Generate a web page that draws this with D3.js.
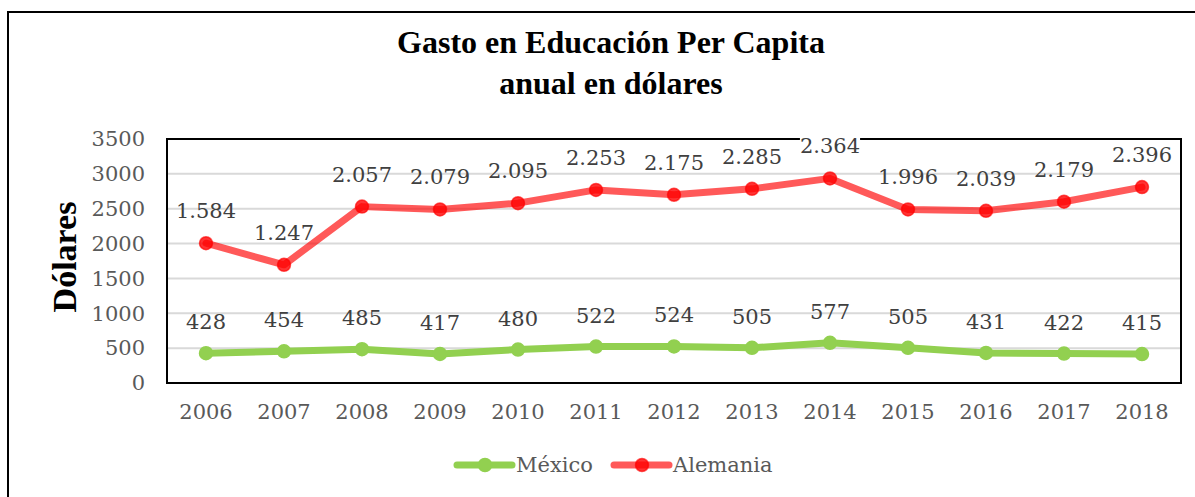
<!DOCTYPE html>
<html>
<head>
<meta charset="utf-8">
<script src="https://cdn.jsdelivr.net/npm/d3@7"></script>
<style>
    body { margin: 0; background: #fff; }
    svg { display: block; }
</style>
</head>
<body>
<svg id="chart" width="1195" height="497"></svg>
<script>
// datos del gráfico
const years = ["2006", "2007", "2008", "2009", "2010", "2011", "2012", "2013", "2014", "2015", "2016", "2017", "2018"];
const mexico = [428, 454, 485, 417, 480, 522, 524, 505, 577, 505, 431, 422, 415];
// Alemania: la línea trazada y las etiquetas no coinciden en el original
const alemania = [2005, 1695, 2530, 2490, 2580, 2770, 2700, 2785, 2935, 2490, 2470, 2600, 2810];
const alemaniaLabels = ["1.584", "1.247", "2.057", "2.079", "2.095", "2.253", "2.175", "2.285", "2.364", "1.996", "2.039", "2.179", "2.396"];
const yTicks = [0, 500, 1000, 1500, 2000, 2500, 3000, 3500];

const svg = d3.select("#chart");
const plot = { left: 167, right: 1181, top: 139, bottom: 383 };
const serif = "'DejaVu Serif', serif";
const titleFont = "'Liberation Serif', 'Times New Roman', serif";
const fs = "21px";

// marco exterior
svg.append("rect")
    .attr("x", 8).attr("y", 12)
    .attr("width", 1200).attr("height", 500)
    .attr("fill", "none").attr("stroke", "#000").attr("stroke-width", 2);

// título
const title = svg.append("text")
    .attr("text-anchor", "middle")
    .attr("font-family", titleFont)
    .attr("font-weight", "bold")
    .attr("font-size", "32px")
    .attr("fill", "#000");
title.append("tspan").attr("x", 611).attr("y", 53).text("Gasto en Educación Per Capita");
title.append("tspan").attr("x", 611).attr("y", 94).text("anual en dólares");

const x = d3.scaleBand().domain(years).range([plot.left, plot.right]);
const cx = d => x(d) + x.bandwidth() / 2;
const y = d3.scaleLinear().domain([0, 3500]).range([plot.bottom, plot.top]);

// líneas de cuadrícula
svg.append("g")
    .selectAll("line")
    .data(yTicks.slice(1, -1))
    .enter()
    .append("line")
    .attr("x1", plot.left).attr("x2", plot.right)
    .attr("y1", d => y(d)).attr("y2", d => y(d))
    .attr("stroke", "#d9d9d9").attr("stroke-width", 2);

// eje Y
const yAxis = svg.append("g")
    .attr("transform", `translate(${plot.left},0)`)
    .call(d3.axisLeft(y).tickValues(yTicks).tickFormat(d3.format("d")).tickSize(0).tickPadding(22));
yAxis.select(".domain").remove();
yAxis.selectAll("text")
    .attr("font-family", serif).attr("font-size", fs).attr("fill", "#595959");

// eje X
const xAxis = svg.append("g")
    .attr("transform", `translate(0,${plot.bottom})`)
    .call(d3.axisBottom(x).tickSize(0).tickPadding(21));
xAxis.select(".domain").remove();
xAxis.selectAll("text")
    .attr("font-family", serif).attr("font-size", fs).attr("fill", "#595959");

// título eje Y
svg.append("text")
    .attr("transform", "translate(76,257) rotate(-90)")
    .attr("text-anchor", "middle")
    .attr("font-family", titleFont)
    .attr("font-weight", "bold")
    .attr("font-size", "34px")
    .attr("fill", "#000")
    .text("Dólares");

// marco del área de trazado
svg.append("rect")
    .attr("x", plot.left).attr("y", plot.top)
    .attr("width", plot.right - plot.left).attr("height", plot.bottom - plot.top)
    .attr("fill", "none").attr("stroke", "#000").attr("stroke-width", 2);

const line = d3.line().x((d, i) => cx(years[i])).y(d => y(d));

function drawSeries(values, color, lineOpacity, markerOpacity, r) {
    const g = svg.append("g");
    g.append("path")
        .datum(values)
        .attr("d", line)
        .attr("fill", "none")
        .attr("stroke", color)
        .attr("stroke-opacity", lineOpacity)
        .attr("stroke-width", 7)
        .attr("stroke-linejoin", "round")
        .attr("stroke-linecap", "round");
    g.selectAll("circle")
        .data(values)
        .enter()
        .append("circle")
        .attr("cx", (d, i) => cx(years[i]))
        .attr("cy", d => y(d))
        .attr("r", r)
        .attr("fill", color)
        .attr("fill-opacity", markerOpacity)
        .attr("stroke", color)
        .attr("stroke-opacity", lineOpacity)
        .attr("stroke-width", 1.5);
}

drawSeries(mexico, "#92D050", 1, 1, 6.5);
drawSeries(alemania, "#FF0000", 0.65, 0.8, 6.5);

// etiquetas de datos (recortadas al área de trazado, con fondo blanco)
svg.append("clipPath").attr("id", "plotClip")
    .append("rect")
    .attr("x", 0).attr("y", plot.top - 1)
    .attr("width", 1195).attr("height", 497);

const labelGroup = svg.append("g").attr("clip-path", "url(#plotClip)");

function drawLabels(values, labels, offset) {
    values.forEach((v, i) => {
        const t = labelGroup.append("text")
            .attr("x", cx(years[i]))
            .attr("y", y(v) - offset)
            .attr("text-anchor", "middle")
            .attr("font-family", serif)
            .attr("font-size", fs)
            .attr("fill", "#404040")
            .text(labels[i]);
        const b = t.node().getBBox();
        labelGroup.insert("rect", () => t.node())
            .attr("x", b.x).attr("y", b.y + 3)
            .attr("width", b.width).attr("height", b.height - 6)
            .attr("fill", "#fff").attr("fill-opacity", 0)
            .classed("labelBg", true);
    });
}

drawLabels(mexico, mexico.map(String), 24);
drawLabels(alemania, alemaniaLabels, 25);

// el fondo blanco solo tapa el marco superior (caso 2014)
labelGroup.selectAll(".labelBg")
    .filter(function () { return +this.getAttribute("y") < plot.top + 2; })
    .attr("fill-opacity", 1);

// leyenda
const legend = svg.append("g").attr("transform", "translate(0,465)");
const legendItems = [
    { name: "México", color: "#92D050", op: 1, mop: 1, x: 457 },
    { name: "Alemania", color: "#FF0000", op: 0.65, mop: 0.8, x: 614 }
];
legendItems.forEach(it => {
    legend.append("line")
        .attr("x1", it.x).attr("x2", it.x + 55)
        .attr("y1", 0).attr("y2", 0)
        .attr("stroke", it.color).attr("stroke-opacity", it.op)
        .attr("stroke-width", 7).attr("stroke-linecap", "round");
    legend.append("circle")
        .attr("cx", it.x + 28).attr("cy", 0).attr("r", 6.5)
        .attr("fill", it.color).attr("fill-opacity", it.mop)
        .attr("stroke", it.color).attr("stroke-opacity", it.op).attr("stroke-width", 1.5);
    legend.append("text")
        .attr("x", it.x + 59).attr("y", 7)
        .attr("font-family", serif).attr("font-size", fs)
        .attr("fill", "#595959")
        .text(it.name);
});
</script>
</body>
</html>
